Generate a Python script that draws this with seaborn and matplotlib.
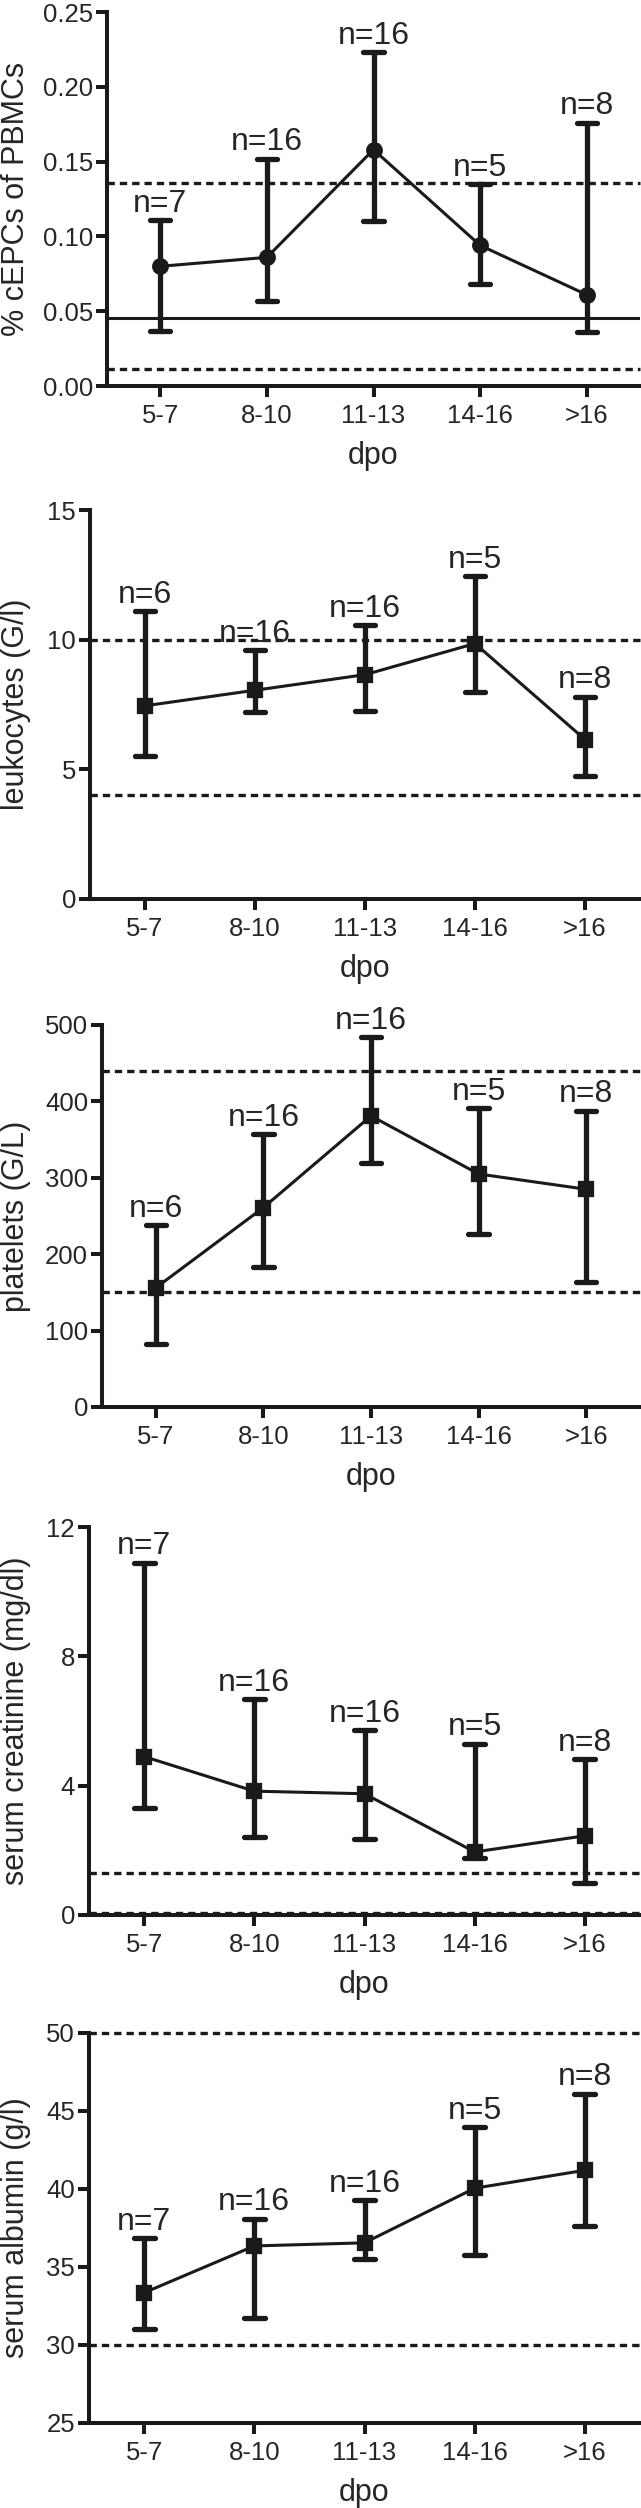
import numpy as np
import pandas as pd
import seaborn as sns
import matplotlib.pyplot as plt

# dpo groups (x axis)
cats = ['5-7', '8-10', '11-13', '14-16', '>16']

# % cEPCs of PBMCs
epc_mid = [0.080, 0.086, 0.158, 0.094, 0.061]
epc_low = [0.037, 0.057, 0.110, 0.068, 0.036]
epc_high = [0.111, 0.152, 0.223, 0.135, 0.176]
epc_n = [7, 16, 16, 5, 8]

# leukocytes (G/l)
leu_mid = [7.45, 8.05, 8.65, 9.85, 6.15]
leu_low = [5.50, 7.20, 7.25, 8.00, 4.76]
leu_high = [11.10, 9.60, 10.55, 12.45, 7.80]
leu_n = [6, 16, 16, 5, 8]

# platelets (G/L)
plt_mid = [156, 261, 381, 305, 285]
plt_low = [82, 183, 319, 227, 163]
plt_high = [238, 357, 484, 391, 388]
plt_n = [6, 16, 16, 5, 8]

# serum creatinine (mg/dl)
cre_mid = [4.90, 3.83, 3.75, 1.95, 2.45]
cre_low = [3.30, 2.42, 2.35, 1.75, 1.00]
cre_high = [10.90, 6.67, 5.72, 5.30, 4.82]
cre_n = [7, 16, 16, 5, 8]

# serum albumin (g/l)
alb_mid = [33.35, 36.35, 36.55, 40.05, 41.20]
alb_low = [31.00, 31.70, 35.50, 35.80, 37.60]
alb_high = [36.85, 38.10, 39.30, 43.95, 46.10]
alb_n = [7, 16, 16, 5, 8]

sns.set_style('ticks')
plt.rcParams['font.family'] = ['Liberation Sans', 'DejaVu Sans']

W, H = 641, 2508
INK = '#1a1a1a'
fig = plt.figure(figsize=(W / 100, H / 100), dpi=100)

# panel setup: data, ylabel, ylim, yticks, tick format, marker, ref lines, box in pixels (left, top, bottom)
panels = [
    (epc_mid, epc_low, epc_high, epc_n, '% cEPCs of PBMCs', (0, 0.25), np.arange(0, 0.26, 0.05), '{:.2f}', 'o',
     [(0.136, '--'), (0.0115, '--'), (0.0456, '-')], (107, 12, 386)),
    (leu_mid, leu_low, leu_high, leu_n, 'leukocytes (G/l)', (0, 15), [0, 5, 10, 15], '{:.0f}', 's',
     [(10, '--'), (4, '--')], (90, 510, 899)),
    (plt_mid, plt_low, plt_high, plt_n, 'platelets (G/L)', (0, 500), np.arange(0, 501, 100), '{:.0f}', 's',
     [(440, '--'), (150, '--')], (102, 1025, 1407)),
    (cre_mid, cre_low, cre_high, cre_n, 'serum creatinine (mg/dl)', (0, 12), [0, 4, 8, 12], '{:.0f}', 's',
     [(1.3, '--'), (0.07, '--')], (89, 1527, 1915)),
    (alb_mid, alb_low, alb_high, alb_n, 'serum albumin (g/l)', (25, 50), np.arange(25, 51, 5), '{:.0f}', 's',
     [(50, '--'), (30, '--')], (89, 2033, 2423)),
]

for mid, low, high, ns, ylab, ylim, yticks, fmt, mk, refs, box in panels:
    left, top, bottom = box
    width = 640 - left
    ax = fig.add_axes([left / W, 1 - bottom / H, width / W, (bottom - top) / H])

    # three rows per group: low / mid / high -> median + full range
    df = pd.DataFrame({
        'dpo': cats * 3,
        'val': list(low) + list(mid) + list(high),
    })
    sns.pointplot(data=df, x='dpo', y='val', order=cats, estimator='median', errorbar=('pi', 100),
                  color=INK, markers=mk, markersize=10.5, linewidth=2.2, capsize=0.19,
                  err_kws={'linewidth': 3.8}, ax=ax)

    for yv, ls in refs:
        if ls == '--':
            ax.axhline(yv, color=INK, lw=2.4, ls=(0, (2.2, 1.5)), clip_on=False, zorder=1)
        else:
            ax.axhline(yv, color=INK, lw=2.2, zorder=1)

    for i, n in enumerate(ns):
        ax.annotate(f'n={n}', (i, high[i]), xytext=(0, 1), textcoords='offset points',
                    ha='center', va='bottom', fontsize=23)

    ax.set_xlim(-0.5, 4.5)
    ax.set_ylim(*ylim)
    ax.set_yticks(yticks)
    ax.set_yticklabels([fmt.format(t) for t in yticks])
    ax.set_ylabel(ylab, fontsize=22)
    ax.set_xlabel('dpo', fontsize=22, labelpad=9)
    ax.yaxis.set_label_coords((1 - left) / width, 0.5)
    ax.yaxis.label.set_va('top')

    sns.despine(ax=ax)
    for s in ['left', 'bottom']:
        ax.spines[s].set_linewidth(2.9)
        ax.spines[s].set_color(INK)
    ax.tick_params(axis='both', direction='out', length=8, width=2.9, color=INK, labelsize=18.5)
    ax.tick_params(axis='y', pad=2)
    ax.tick_params(axis='x', pad=5)

fig.savefig('out.png', dpi=100)
